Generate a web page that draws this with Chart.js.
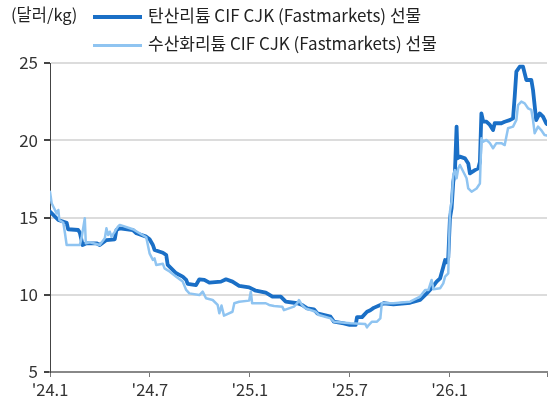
<!DOCTYPE html>
<html>
<head>
<meta charset="utf-8">
<script src="https://cdn.jsdelivr.net/npm/chart.js@4.4.1/dist/chart.umd.min.js"></script>
<style>
  html, body { margin: 0; padding: 0; background: #fff; }
  #wrap { position: relative; width: 550px; height: 408px; font-family: 'Noto Sans CJK KR', 'Noto Sans', sans-serif; color: #222; }
  #unit { position: absolute; left: 11px; top: 2px; font-size: 16.5px; }
  .leg { position: absolute; left: 93px; font-size: 17px; white-space: nowrap; }
  .leg i { display: inline-block; width: 49px; vertical-align: middle; margin-right: 6px; }
  #leg1 { top: 2px; }
  #leg2 { top: 30px; }
  #leg1 i { height: 4px; background: #1a6fc6; }
  #leg2 i { height: 3px; background: #8fc4f1; }
  canvas { position: absolute; left: 0; top: 0; }
</style>
</head>
<body>
<div id="wrap">
  <canvas id="chart" width="550" height="408"></canvas>
  <div id="unit">(달러/kg)</div>
  <div class="leg" id="leg1"><i></i>탄산리튬 CIF CJK (Fastmarkets) 선물</div>
  <div class="leg" id="leg2"><i></i>수산화리튬 CIF CJK (Fastmarkets) 선물</div>
</div>
<script>
// x = months since Jan 2024
const tickMonths = [0, 6, 12, 18, 24, 29.85];
const tickLabels = ["'24.1", "'24.7", "'25.1", "'25.7", "'26.1", ""];

// 탄산리튬 CIF CJK
const carbMonths = [0, 0.5, 1.0, 1.09, 1.69, 1.79, 1.96, 2.19, 2.79, 2.99, 3.39, 3.89, 3.99, 4.19, 4.98, 5.19, 5.78, 5.98,
  6.18, 6.28, 6.78, 6.98, 7.07, 7.58, 7.97, 8.18, 8.27, 8.77, 8.97, 9.27, 9.57, 10.27, 10.57, 10.96, 11.36, 11.96,
  12.36, 12.96, 13.36, 13.86, 14.16, 14.85, 15.15, 15.45, 15.85, 16.05, 16.85, 17.05, 17.64, 18.0, 18.36, 18.44,
  18.74, 19.04, 19.24, 19.44, 19.84, 20.04, 20.63, 21.63, 22.23, 22.63, 22.92, 23.22, 23.43, 23.62, 23.73, 23.82,
  23.92, 24.02, 24.12, 24.22, 24.32, 24.42, 24.48, 24.62, 24.92, 25.12, 25.22, 25.52, 25.72, 25.82, 25.91, 26.02,
  26.21, 26.42, 26.61, 26.71, 27.11, 27.31, 27.61, 27.81, 27.91, 28.01, 28.21, 28.41, 28.61, 28.91, 29.01, 29.2,
  29.41, 29.61, 29.8, 29.85];
const carbPrice = [15.38, 14.84, 14.66, 14.24, 14.19, 14.02, 13.22, 13.33, 13.33, 13.22, 13.54, 13.59, 14.19, 14.30, 14.19, 13.98, 13.76, 13.59,
  13.22, 12.90, 12.72, 12.57, 11.93, 11.39, 11.17, 10.96, 10.70, 10.63, 11.0, 10.96, 10.78, 10.85, 11.0, 10.85, 10.57, 10.48,
  10.26, 10.14, 9.88, 9.88, 9.55, 9.45, 9.34, 9.12, 9.06, 8.80, 8.58, 8.26, 8.15, 8.05, 8.05, 8.55,
  8.55, 8.9, 9.0, 9.15, 9.34, 9.45, 9.38, 9.48, 9.66, 10.09, 10.42, 10.85, 11.06, 11.8, 12.25, 12.1,
  12.4, 14.95, 15.6, 17.3, 17.96, 20.88, 18.83, 18.94, 18.83, 18.5, 17.86, 18.07, 18.18, 18.6, 21.74, 21.2,
  21.2, 20.99, 20.66, 21.1, 21.1, 21.2, 21.3, 21.42, 22.82, 24.44, 24.76, 24.76, 23.9, 23.9, 23.25, 21.31,
  21.74, 21.53, 21.1, 21.05];

// 수산화리튬 CIF CJK
const hydroMonths = [0, 0.10, 0.40, 0.50, 0.56, 0.80, 0.90, 1.0, 1.79, 1.90, 2.09, 2.15, 2.39, 2.99, 3.29, 3.39, 3.49, 3.59,
  3.69, 3.89, 4.08, 4.19, 4.98, 5.78, 5.98, 6.18, 6.28, 6.38, 6.78, 6.88, 7.18, 7.58, 7.97, 8.18, 8.37, 8.97,
  9.17, 9.37, 9.77, 10.07, 10.17, 10.3, 10.45, 10.75, 10.96, 11.07, 11.36, 11.96, 12.06, 12.14, 12.96, 13.16,
  13.46, 13.95, 14.05, 14.35, 14.65, 14.85, 14.95, 15.13, 15.35, 15.95, 16.15, 16.85, 17.05, 18.04, 18.94, 19.04,
  19.14, 19.34, 19.64, 19.84, 19.93, 20.63, 21.63, 22.23, 22.53, 22.73, 22.92, 23.03, 23.43, 23.62, 23.73, 23.92,
  24.02, 24.12, 24.22, 24.32, 24.42, 24.52, 24.62, 25.02, 25.12, 25.32, 25.62, 25.82, 25.91, 26.02, 26.21, 26.42,
  26.61, 26.81, 27.11, 27.31, 27.51, 27.81, 28.01, 28.11, 28.31, 28.51, 28.71, 28.91, 29.01, 29.11, 29.31, 29.5,
  29.7, 29.85];
const hydroPrice = [16.67, 15.92, 15.27, 15.49, 14.84, 14.66, 13.98, 13.22, 13.22, 13.7, 14.95, 13.33, 13.4, 13.22, 13.65, 14.3, 13.87, 14.08,
  13.76, 14.08, 14.41, 14.52, 14.24, 13.72, 12.68, 12.25, 12.35, 11.93, 12.0, 11.71, 11.5, 11.17, 10.85, 10.31, 10.09, 9.98,
  10.2, 9.77, 9.66, 9.34, 8.8, 9.3, 8.65, 8.8, 8.9, 9.45, 9.55, 9.62, 10.2, 9.45, 9.45, 9.34,
  9.27, 9.23, 9.0, 9.12, 9.23, 9.45, 9.66, 9.35, 9.12, 8.9, 8.69, 8.47, 8.26, 8.15, 8.1, 7.89,
  8.04, 8.26, 8.26, 8.47, 9.45, 9.45, 9.55, 9.88, 10.31, 10.31, 10.96, 10.35, 10.42, 10.74, 11.17, 11.39,
  15.38, 16.02, 17.75, 18.07, 17.54, 18.18, 18.4, 17.54, 16.88, 16.67, 16.88, 17.2, 20.13, 19.91, 20.02, 19.81,
  19.48, 19.81, 19.81, 19.69, 20.78, 20.88, 21.31, 22.28, 22.5, 22.39, 22.07, 21.96, 21.31, 20.45, 20.88, 20.66,
  20.34, 20.3];

const toPoints = (xs, ys) => xs.map((x, i) => ({ x: x, y: ys[i] }));
const FONT = "'Noto Sans CJK KR', 'Noto Sans', sans-serif";

new Chart(document.getElementById('chart'), {
    type: 'line',
    data: {
        datasets: [
            { label: '탄산리튬 CIF CJK (Fastmarkets) 선물', data: toPoints(carbMonths, carbPrice), borderColor: '#1a6fc6', borderWidth: 3.8, pointRadius: 0, tension: 0, order: 1 },
            { label: '수산화리튬 CIF CJK (Fastmarkets) 선물', data: toPoints(hydroMonths, hydroPrice), borderColor: '#8fc4f1', borderWidth: 2.5, pointRadius: 0, tension: 0, order: 0 }
        ]
    },
    options: {
        responsive: false, animation: false,
        layout: { padding: { top: 63, right: 1, left: 0, bottom: 0 } },
        plugins: { legend: { display: false }, tooltip: { enabled: false } },
        elements: { line: { borderJoinStyle: 'round', borderCapStyle: 'round' } },
        scales: {
            x: {
                type: 'linear', min: 0, max: 29.85,
                afterBuildTicks: axis => { axis.ticks = tickMonths.map(v => ({ value: v })); },
                afterFit: axis => { axis.height = 36; },
                grid: { drawOnChartArea: false, drawTicks: true, tickLength: 5, tickColor: '#777' },
                border: { color: '#888', width: 2 },
                ticks: {
                    autoSkip: false, maxRotation: 0, padding: 3, color: '#333', font: { family: FONT, size: 16.5 },
                    callback: v => { const i = tickMonths.indexOf(v); return i >= 0 ? tickLabels[i] : ''; }
                }
            },
            y: {
                min: 5, max: 25,
                afterFit: axis => { axis.width = 50; },
                grid: { color: '#dcdcdc', lineWidth: 2, tickColor: '#444', tickLength: 6 },
                border: { color: '#444', width: 1 },
                ticks: { stepSize: 5, padding: 6, color: '#333', font: { family: FONT, size: 17 } }
            }
        }
    }
});
</script>
</body>
</html>
